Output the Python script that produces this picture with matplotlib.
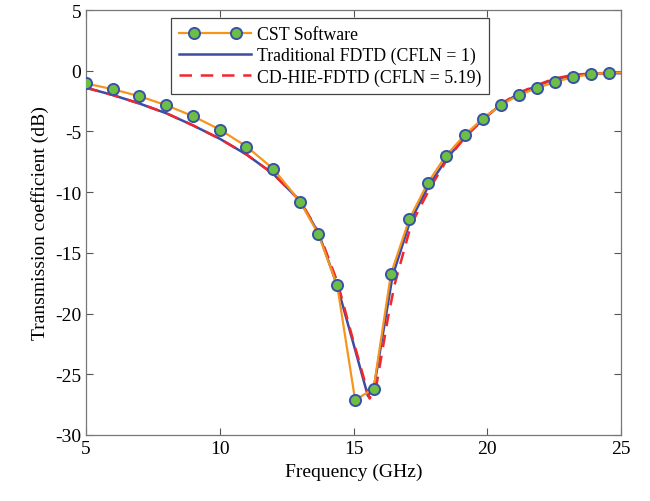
import matplotlib
matplotlib.use("Agg")
import matplotlib.pyplot as plt
from matplotlib.legend_handler import HandlerLine2D

# CST Software (markers, last point is line only)
cst_freq = [5.0, 6.0, 7.0, 8.0, 9.0, 10.0, 11.0, 12.0, 13.0, 13.68, 14.39, 15.06,
            15.75, 16.4, 17.09, 17.78, 18.45, 19.15, 19.83, 20.5, 21.19, 21.87,
            22.55, 23.22, 23.89, 24.56, 25.0]
cst_s21 = [-1.05, -1.52, -2.1, -2.84, -3.74, -4.84, -6.24, -8.08, -10.77, -13.43,
           -17.68, -27.12, -26.19, -16.72, -12.2, -9.23, -7.01, -5.31, -3.94, -2.84,
           -1.99, -1.41, -0.92, -0.51, -0.29, -0.15, -0.15]

# Traditional FDTD (CFLN = 1)
fdtd_freq = [5.0, 6.0, 7.0, 8.0, 9.0, 10.0, 11.0, 12.0, 13.0, 13.7, 14.39, 15.0,
             15.54, 15.78, 16.46, 17.1, 17.8, 18.5, 19.2, 19.9, 20.5, 21.2, 21.9,
             22.5, 23.2, 23.9, 24.5, 25.0]
fdtd_s21 = [-1.4, -2.0, -2.7, -3.5, -4.5, -5.6, -6.9, -8.5, -10.7, -13.4, -17.7,
            -22.5, -26.8, -25.9, -16.9, -12.5, -9.5, -7.2, -5.35, -3.9, -2.8, -1.85,
            -1.2, -0.7, -0.4, -0.25, -0.2, -0.2]

# CD-HIE-FDTD (CFLN = 5.19)
hie_freq = [5.0, 6.0, 7.0, 8.0, 9.0, 10.0, 11.0, 12.0, 13.0, 13.7, 14.4, 14.9,
            15.6, 15.85, 16.3, 16.55, 17.15, 17.85, 18.5, 19.2, 19.9, 20.5, 21.2,
            21.9, 22.5, 23.2, 23.9, 24.5, 25.0]
hie_s21 = [-1.4, -2.0, -2.7, -3.5, -4.5, -5.6, -6.9, -8.5, -10.7, -13.3, -17.4,
           -21.5, -27.0, -26.0, -20.2, -17.5, -12.7, -9.7, -7.3, -5.4, -3.9, -2.75,
           -1.8, -1.15, -0.65, -0.35, -0.22, -0.18, -0.2]


class FullLineHandler(HandlerLine2D):
    # two markers inset from the ends, line runs the whole handle length
    def create_artists(self, legend, orig_handle, xdescent, ydescent, width,
                       height, fontsize, trans):
        artists = super().create_artists(legend, orig_handle, xdescent, ydescent,
                                         width, height, fontsize, trans)
        line = artists[0]
        pad = 0.85 * fontsize
        x0, x1 = -xdescent, -xdescent + width
        y = line.get_ydata()[0]
        line.set_data([x0, x0 + pad, x1 - pad, x1], [y, y, y, y])
        line.set_markevery([1, 2])
        return artists


plt.rcParams["font.family"] = ["Liberation Serif", "DejaVu Serif"]
plt.rcParams["axes.unicode_minus"] = False

fig = plt.figure(figsize=(6.5, 5.02), dpi=100)
ax = fig.add_axes([0.1323, 0.1315, 0.8231, 0.8465])

cst_line, = ax.plot(cst_freq, cst_s21, color="#F7941D", linewidth=1.6, marker="o",
                    markersize=8, markerfacecolor="#6DBE45", markeredgecolor="#3953A4",
                    markeredgewidth=1.4, markevery=list(range(len(cst_freq) - 1)),
                    label="CST Software", zorder=4)
ax.plot(fdtd_freq, fdtd_s21, color="#3B4BA6", linewidth=1.8,
        label="Traditional FDTD (CFLN = 1)", zorder=2)
ax.plot(hie_freq, hie_s21, color="#F0282D", linewidth=1.8, linestyle=(0, (5, 3.5)),
        label="CD-HIE-FDTD (CFLN = 5.19)", zorder=3)

ax.set_xlim(5, 25)
ax.set_ylim(-30, 5)
ax.set_xticks([5, 10, 15, 20, 25])
ax.set_yticks([-30, -25, -20, -15, -10, -5, 0, 5])
ax.tick_params(direction="in", top=True, right=True, length=5, width=0.8,
               labelsize=14, color="#555555")
for s in ax.spines.values():
    s.set_color("#777777")
    s.set_linewidth(0.9)

ax.set_xlabel("Frequency (GHz)", fontsize=14)
ax.set_ylabel("Transmission coefficient (dB)", fontsize=14)

leg = ax.legend(loc="upper left", bbox_to_anchor=(0.158, 0.981), borderaxespad=0,
                fontsize=12.8, handlelength=4.1, handletextpad=0.3,
                labelspacing=0.22, fancybox=False, framealpha=1, borderpad=0.45,
                handler_map={cst_line: FullLineHandler(numpoints=2)})
leg.get_frame().set_edgecolor("#444444")
leg.get_frame().set_linewidth(0.9)

fig.savefig("out.png", dpi=100)
